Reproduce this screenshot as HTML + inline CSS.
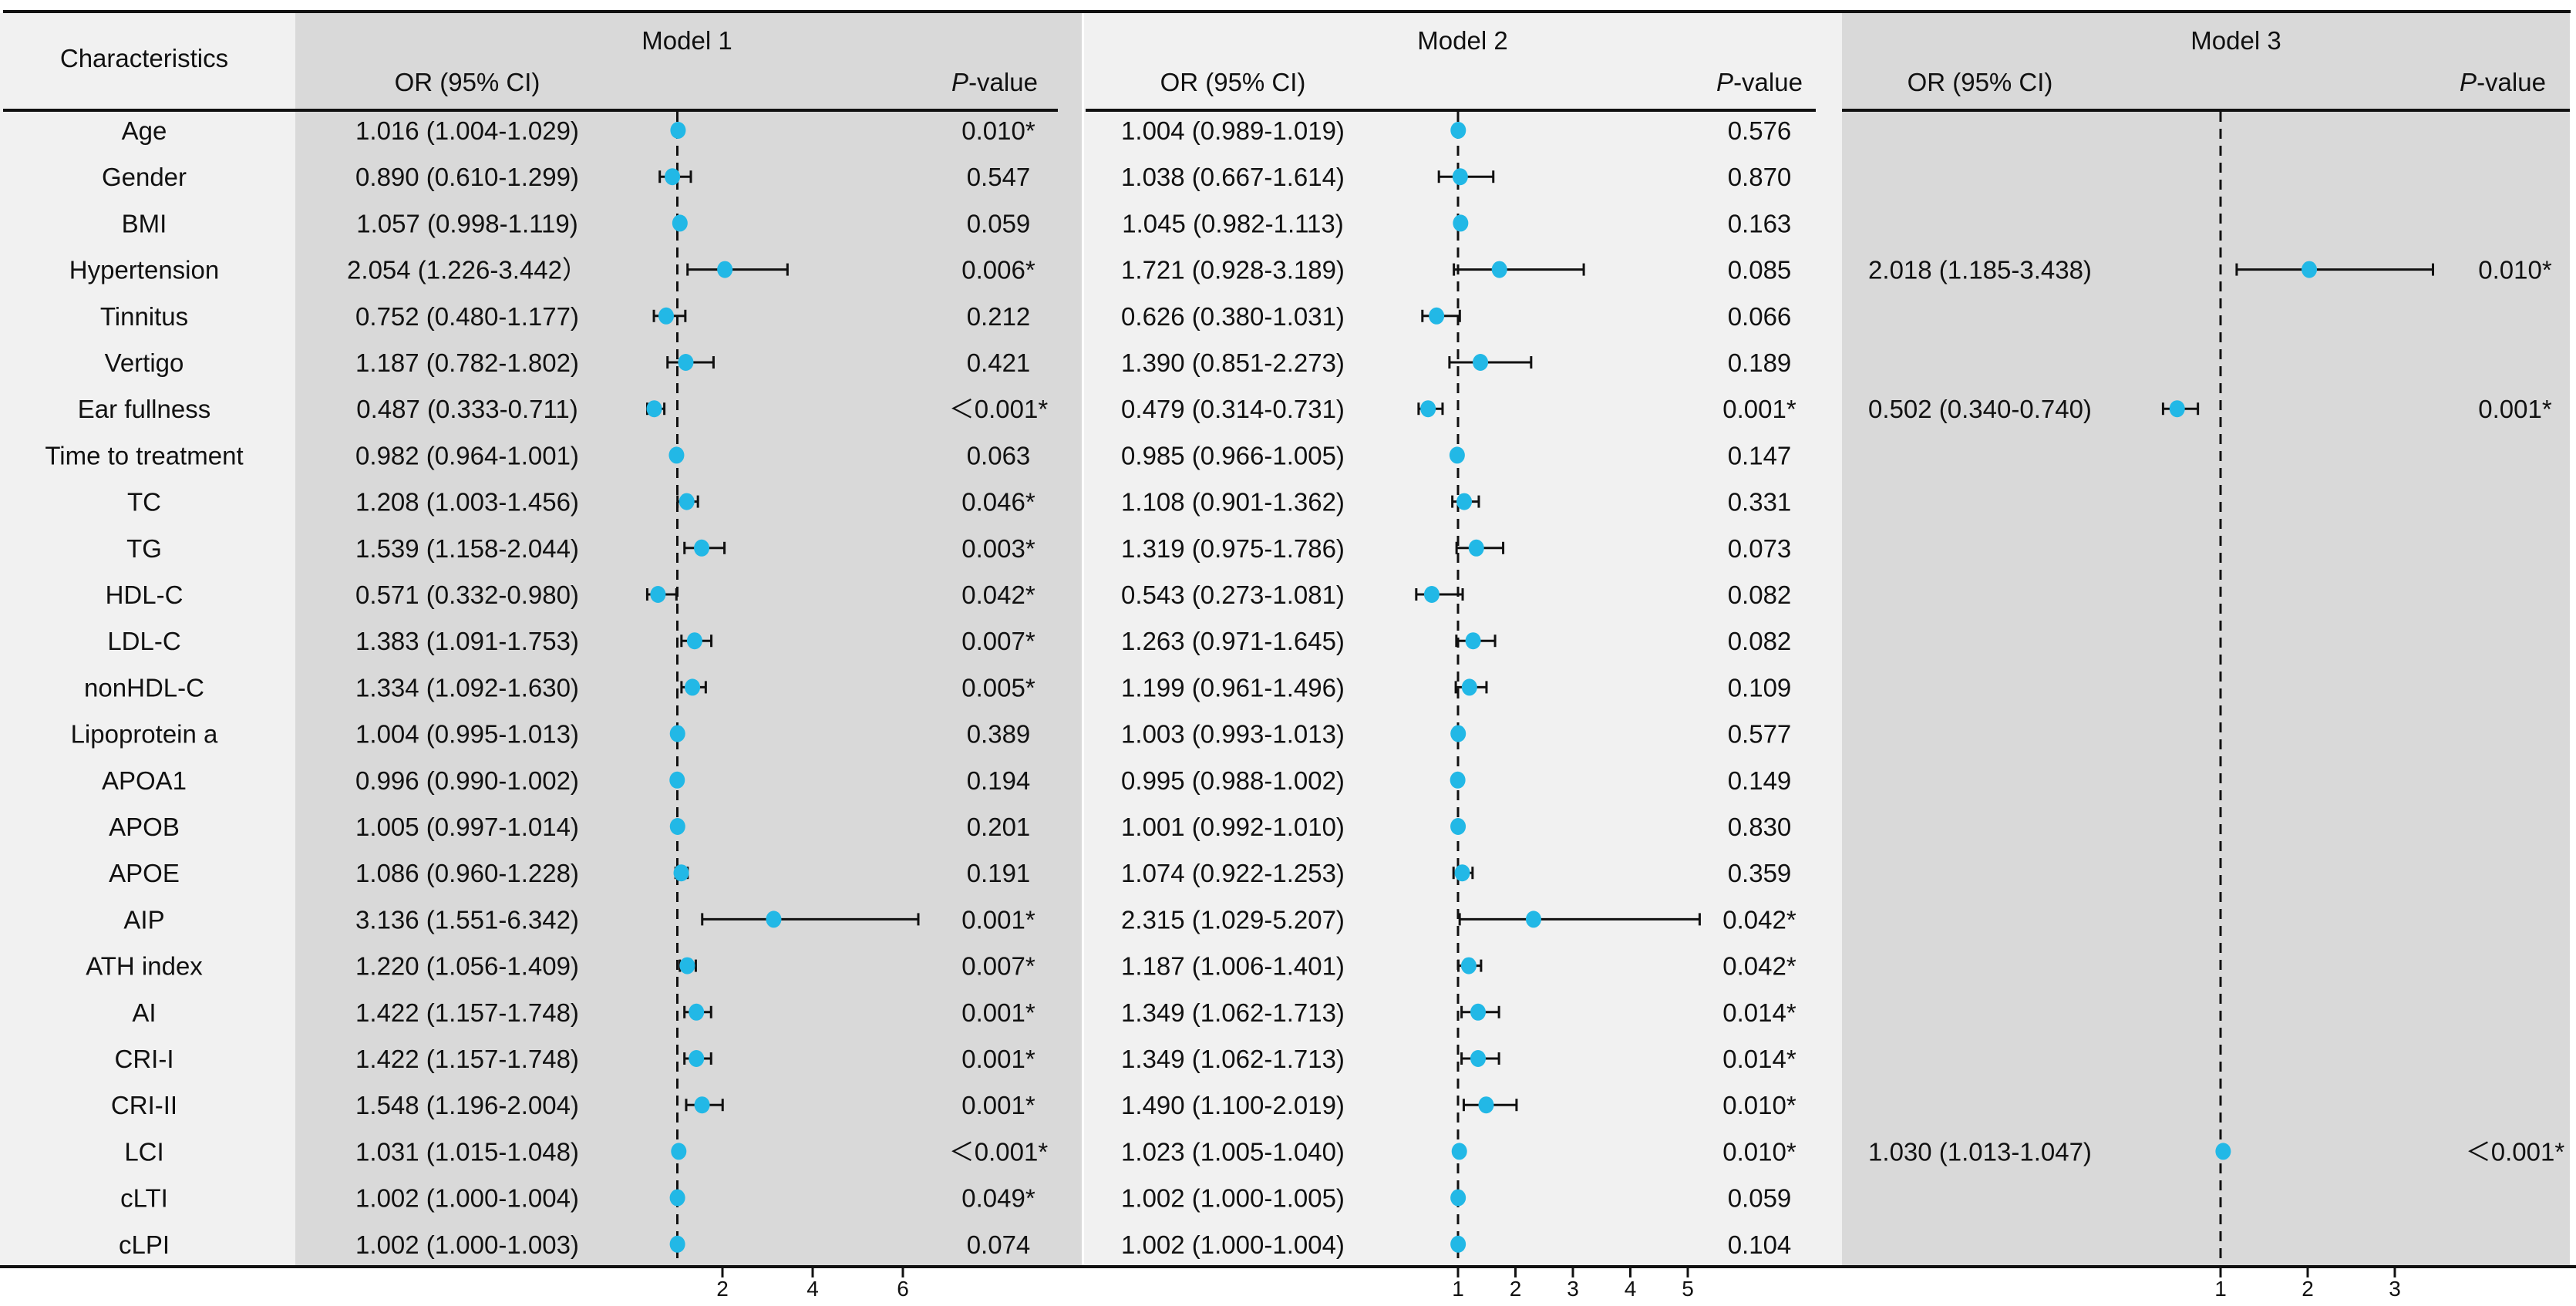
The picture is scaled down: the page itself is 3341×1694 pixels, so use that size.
<!DOCTYPE html>
<html><head><meta charset="utf-8">
<style>
html,body{margin:0;padding:0;background:#fff;}
svg{display:block;}
text{font-family:"Liberation Sans","Noto Sans CJK SC",sans-serif;fill:#111;}
</style></head>
<body>
<svg id="chart" width="3341" height="1694" viewBox="0 0 3341 1694" xmlns="http://www.w3.org/2000/svg">
  <rect x="0" y="17" width="383" height="1624" fill="#f1f1f1"/>
  <rect x="383" y="17" width="1020" height="1624" fill="#d9d9d9"/>
  <rect x="1406" y="17" width="983" height="1624" fill="#f1f1f1"/>
  <rect x="2389" y="17" width="944" height="1624" fill="#d9d9d9"/>
  <rect x="4" y="13" width="3330" height="4" fill="#111"/>
  <rect x="4" y="141" width="1368" height="4" fill="#111"/>
  <rect x="1408" y="141" width="947" height="4" fill="#111"/>
  <rect x="2389" y="141" width="944" height="4" fill="#111"/>
  <rect x="0" y="1641" width="3341" height="4" fill="#111"/>
  <text x="187" y="87" font-size="33" text-anchor="middle">Characteristics</text>
  <text x="891" y="64" font-size="33" text-anchor="middle">Model 1</text>
  <text x="1897" y="64" font-size="33" text-anchor="middle">Model 2</text>
  <text x="2900" y="64" font-size="33" text-anchor="middle">Model 3</text>
  <text x="606" y="118" font-size="33" text-anchor="middle">OR (95% CI)</text>
  <text x="1599" y="118" font-size="33" text-anchor="middle">OR (95% CI)</text>
  <text x="2568" y="118" font-size="33" text-anchor="middle">OR (95% CI)</text>
  <text x="1290" y="118" font-size="33" text-anchor="middle"><tspan font-style="italic">P</tspan>-value</text>
  <text x="2282" y="118" font-size="33" text-anchor="middle"><tspan font-style="italic">P</tspan>-value</text>
  <text x="3246" y="118" font-size="33" text-anchor="middle"><tspan font-style="italic">P</tspan>-value</text>
  <g id="plot"></g>
</svg>
<script>
const labels = ["Age","Gender","BMI","Hypertension","Tinnitus","Vertigo","Ear fullness","Time to treatment","TC","TG","HDL-C","LDL-C","nonHDL-C","Lipoprotein a","APOA1","APOB","APOE","AIP","ATH index","AI","CRI-I","CRI-II","LCI","cLTI","cLPI"];
const m1Or = [1.016,0.890,1.057,2.054,0.752,1.187,0.487,0.982,1.208,1.539,0.571,1.383,1.334,1.004,0.996,1.005,1.086,3.136,1.220,1.422,1.422,1.548,1.031,1.002,1.002];
const m1Lo = [1.004,0.610,0.998,1.226,0.480,0.782,0.333,0.964,1.003,1.158,0.332,1.091,1.092,0.995,0.990,0.997,0.960,1.551,1.056,1.157,1.157,1.196,1.015,1.000,1.000];
const m1Hi = [1.029,1.299,1.119,3.442,1.177,1.802,0.711,1.001,1.456,2.044,0.980,1.753,1.630,1.013,1.002,1.014,1.228,6.342,1.409,1.748,1.748,2.004,1.048,1.004,1.003];
const m1P = ["0.010*","0.547","0.059","0.006*","0.212","0.421","＜0.001*","0.063","0.046*","0.003*","0.042*","0.007*","0.005*","0.389","0.194","0.201","0.191","0.001*","0.007*","0.001*","0.001*","0.001*","＜0.001*","0.049*","0.074"];
const m2Or = [1.004,1.038,1.045,1.721,0.626,1.390,0.479,0.985,1.108,1.319,0.543,1.263,1.199,1.003,0.995,1.001,1.074,2.315,1.187,1.349,1.349,1.490,1.023,1.002,1.002];
const m2Lo = [0.989,0.667,0.982,0.928,0.380,0.851,0.314,0.966,0.901,0.975,0.273,0.971,0.961,0.993,0.988,0.992,0.922,1.029,1.006,1.062,1.062,1.100,1.005,1.000,1.000];
const m2Hi = [1.019,1.614,1.113,3.189,1.031,2.273,0.731,1.005,1.362,1.786,1.081,1.645,1.496,1.013,1.002,1.010,1.253,5.207,1.401,1.713,1.713,2.019,1.040,1.005,1.004];
const m2P = ["0.576","0.870","0.163","0.085","0.066","0.189","0.001*","0.147","0.331","0.073","0.082","0.082","0.109","0.577","0.149","0.830","0.359","0.042*","0.042*","0.014*","0.014*","0.010*","0.010*","0.059","0.104"];
const m3Rows = [3,6,22];
const m3Or = [2.018,0.502,1.030];
const m3Lo = [1.185,0.340,1.013];
const m3Hi = [3.438,0.740,1.047];
const m3P = ["0.010*","0.001*","＜0.001*"];
const m1Ticks = [2,4,6];
const m2Ticks = [1,2,3,4,5];
const m3Ticks = [1,2,3];

const NS = "http://www.w3.org/2000/svg";
const g = document.getElementById("plot");
const rowY = i => 169 + i * 60.2;
const x1 = v => 878.5 + (v - 1) * 58.5;
const x2 = v => 1891 + (v - 1) * 74.5;
const x3 = v => 2880 + (v - 1) * 113;
function mk(tag, attrs, txt) {
  const e = document.createElementNS(NS, tag);
  for (const k in attrs) e.setAttribute(k, attrs[k]);
  if (txt !== undefined) e.textContent = txt;
  g.appendChild(e);
  return e;
}
function txt(x, y, s, name) {
  const t = mk("text", {x: x, y: y + 12, "font-size": 33, "text-anchor": "middle"}, s);
  
  
  return t;
}
function refLine(x, name) {
  const l = mk("line", {x1: x, y1: 145, x2: x, y2: 1641, stroke: "#111", "stroke-width": 3, "stroke-dasharray": "13 9"});
  
  
}
function marker(sx, i, or, lo, hi, name) {
  const y = rowY(i);
  const a = sx(lo), b = sx(hi), c = sx(or);
  const ln = mk("line", {x1: a, y1: y, x2: b, y2: y, stroke: "#111", "stroke-width": 3});
  
  
  const ca = mk("line", {x1: a, y1: y - 8, x2: a, y2: y + 8, stroke: "#111", "stroke-width": 3});
  
  
  const cb = mk("line", {x1: b, y1: y - 8, x2: b, y2: y + 8, stroke: "#111", "stroke-width": 3});
  
  
  const d = mk("ellipse", {cx: c, cy: y, rx: 10, ry: 11, fill: "#22b8e6"});
  
  
}
function axis(sx, ticks, name) {
  ticks.forEach(v => {
    const tk = mk("line", {x1: sx(v), y1: 1643, x2: sx(v), y2: 1657, stroke: "#111", "stroke-width": 3});
    
    
    const tl = mk("text", {x: sx(v), y: 1681, "font-size": 28, "text-anchor": "middle"}, String(v));
    
    
  });
}
refLine(x1(1), 'model1-reference-line');
refLine(x2(1), 'model2-reference-line');
refLine(x3(1), 'model3-reference-line');
const fmt = (o, l, h, close) => o.toFixed(3) + " (" + l.toFixed(3) + "-" + h.toFixed(3) + (close || ")");
labels.forEach((lab, i) => {
  const y = rowY(i);
  txt(187, y, lab, 'row-label');
  txt(606, y, fmt(m1Or[i], m1Lo[i], m1Hi[i], i === 3 ? "）" : ")"), 'model1-or-text');
  txt(1295, y, m1P[i], 'model1-p-value');
  txt(1599, y, fmt(m2Or[i], m2Lo[i], m2Hi[i]), 'model2-or-text');
  txt(2282, y, m2P[i], 'model2-p-value');
  marker(x1, i, m1Or[i], m1Lo[i], m1Hi[i], 'model1');
  marker(x2, i, m2Or[i], m2Lo[i], m2Hi[i], 'model2');
});
m3Rows.forEach((r, k) => {
  const y = rowY(r);
  txt(2568, y, fmt(m3Or[k], m3Lo[k], m3Hi[k]), 'model3-or-text');
  txt(3262, y, m3P[k], 'model3-p-value');
  marker(x3, r, m3Or[k], m3Lo[k], m3Hi[k], 'model3');
});
axis(x1, m1Ticks, 'model1-axis');
axis(x2, m2Ticks, 'model2-axis');
axis(x3, m3Ticks, 'model3-axis');
</script>
</body></html>
